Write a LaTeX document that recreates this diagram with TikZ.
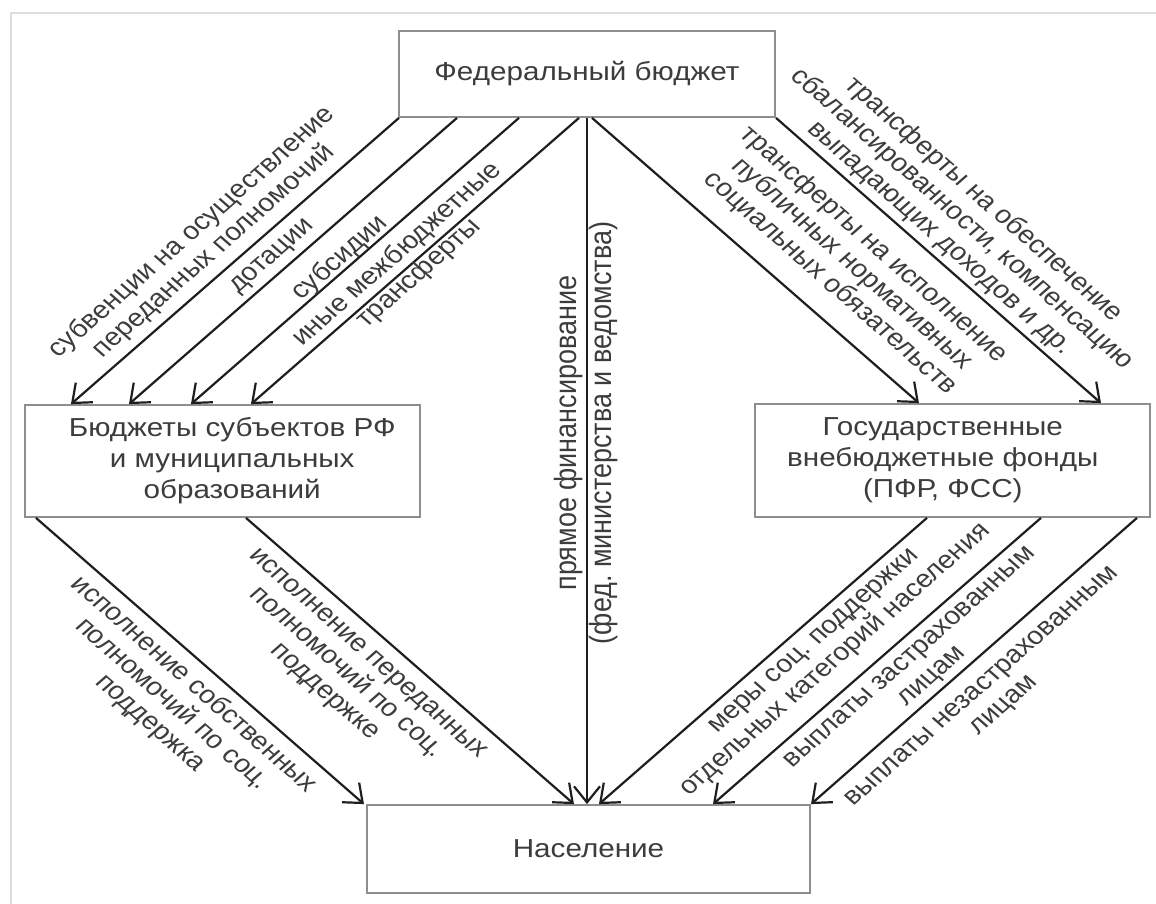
\documentclass[tikz,border=0pt]{standalone}
\usepackage{fontspec}
\setmainfont{Liberation Sans}
\usetikzlibrary{arrows.meta,calc}
\definecolor{txt}{HTML}{3C3C3C}
\definecolor{boxgray}{HTML}{8E8E8E}
\definecolor{arrcol}{HTML}{1E1E1E}
\definecolor{framecol}{HTML}{DDDDDD}
\frenchspacing
\begin{document}
\begin{tikzpicture}[x=1pt,y=-1pt,
  box/.style={draw=boxgray,line width=1.8pt,fill=white,inner sep=0pt,xscale=1.14,
    font=\fontsize{26}{31}\selectfont,text=txt,align=center},
  lab/.style={font=\fontsize{25}{27}\selectfont,text=txt,align=center,inner sep=0pt},
  labU/.style={lab,cm={0.8061,0.7071,-0.8061,0.7071,(0,0)}},
  labD/.style={lab,cm={0.8061,-0.7071,0.8061,0.7071,(0,0)}},
  labV/.style={lab,font=\fontsize{27}{30}\selectfont,cm={0,1,-1.14,0,(0,0)}},
  arr/.style={draw=arrcol,line width=2.2pt,
    -{Straight Barb[length=16pt,width=26pt,line width=2.2pt]}}]
\useasboundingbox (0,0) rectangle (1156,904);
\draw[framecol,line width=2pt] (11,904) -- (11,13) -- (1156,13);

\node[box,minimum width=329.8pt,minimum height=86pt] (fed) at (587,74) {Федеральный бюджет};
\node[box,minimum width=346.5pt,minimum height=112pt] (bL) at (222.5,461)
  {\hspace*{17pt}\begin{tabular}{@{}c@{}}Бюджеты субъектов РФ\\и муниципальных\\образований\end{tabular}};
\node[box,minimum width=346.5pt,minimum height=113pt] (bR) at (952.5,460.5)
  {\begin{tabular}{@{}c@{}}Государственные\\внебюджетные фонды\\(ПФР, ФСС)\end{tabular}\hspace*{17pt}};
\node[box,minimum width=388.6pt,minimum height=88pt] (pop) at (588.5,849) {Население};

% federal -> regional budgets
\draw[arr] ($(fed.south west)+(1,0)$) -- ($(bL.north west)+(47,0)$);
\draw[arr] ($(fed.south west)+(59,0)$) -- ($(bL.north west)+(105,0)$);
\draw[arr] ($(fed.south west)+(121,0)$) -- ($(bL.north west)+(167,0)$);
\draw[arr] ($(fed.south west)+(181,0)$) -- ($(bL.north west)+(227,0)$);
% federal -> population
\draw[arr] (fed.south) -- (fed.south |- pop.north);
% federal -> funds
\draw[arr] ($(fed.south west)+(194,0)$) -- ($(bR.north west)+(165,0)$);
\draw[arr] (fed.south east) -- ($(bR.north west)+(347,0)$);
% regional -> population
\draw[arr] ($(bL.south west)+(12,0)$) -- ($(pop.north west)+(-2,0)$);
\draw[arr] ($(bL.south west)+(222,0)$) -- ($(pop.north west)+(208,0)$);
% funds -> population
\draw[arr] ($(bR.south west)+(173,0)$) -- ($(pop.north west)+(233,0)$);
\draw[arr] ($(bR.south west)+(287,0)$) -- ($(pop.north west)+(347,0)$);
\draw[arr] ($(bR.south west)+(383,0)$) -- (pop.north east);

% labels
\node[labU] (lA) at (203,242) {субвенции на осуществление\\переданных полномочий};
\node[labU] (lB) at (273,257) {дотации};
\node[labU] (lC) at (340,258) {субсидии};
\node[labU] (lD) at (408,264) {иные межбюджетные\\трансферты};
\node[labV] (lE) at (586,433) {прямое финансирование\\(фед. министерства и ведомства)};
\node[labD] (lF) at (852,264) {трансферты на исполнение\\публичных нормативных\\социальных обязательств};
\node[labD] (lG) at (962,219) {трансферты на обеспечение\\сбалансированности, компенсацию\\выпадающих доходов и др.};
\node[labD] (lH) at (172,704) {исполнение собственных\\полномочий по соц.\\поддержка};
\node[labD] (lI) at (345,674) {исполнение переданных\\полномочий по соц.\\поддержке};
\node[labU] (lJ) at (826,652) {меры соц. поддержки\\отдельных категорий населения};
\node[labU] (lK) at (922,668) {выплаты застрахованным\\лицам};
\node[labU] (lL) at (994,697) {выплаты незастрахованным\\лицам};
\end{tikzpicture}
\end{document}
